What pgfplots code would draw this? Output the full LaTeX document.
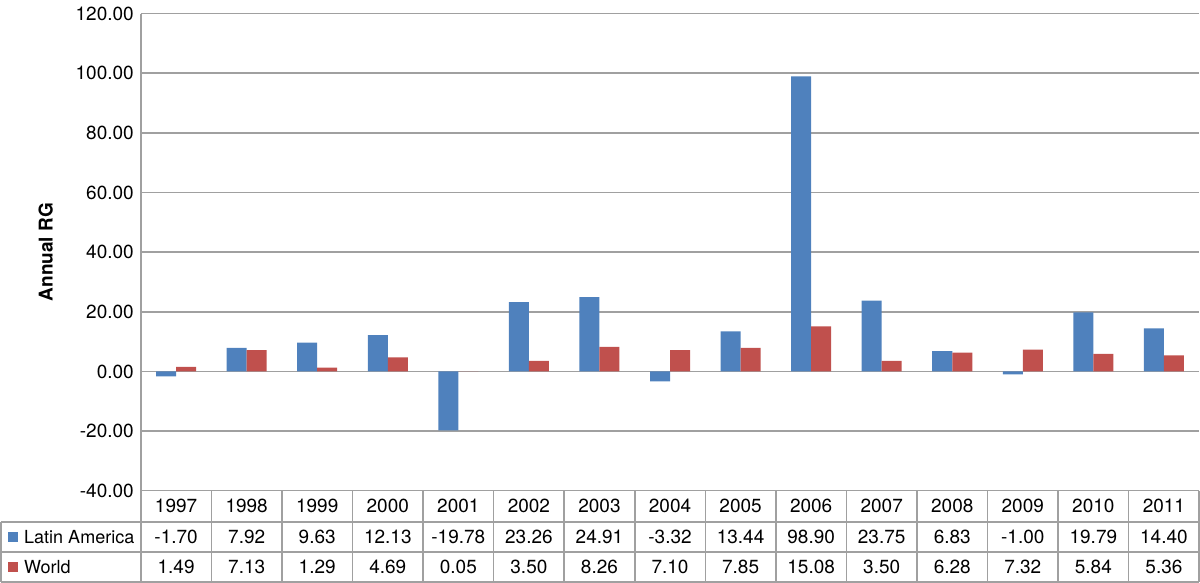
\documentclass[border=0pt]{standalone}
\usepackage{fontspec}
\setmainfont{TeX Gyre Heros}
\usepackage{pgfplots}
\usepackage{pgfplotstable}
\pgfplotsset{compat=1.18}
\definecolor{laBlue}{HTML}{4F81BD}
\definecolor{wRed}{HTML}{C0504D}
\definecolor{gridgray}{HTML}{A0A0A0}
\pgfplotstableread{
idx year la world
0 1997 -1.70 1.49
1 1998 7.92 7.13
2 1999 9.63 1.29
3 2000 12.13 4.69
4 2001 -19.78 0.05
5 2002 23.26 3.50
6 2003 24.91 8.26
7 2004 -3.32 7.10
8 2005 13.44 7.85
9 2006 98.90 15.08
10 2007 23.75 3.50
11 2008 6.83 6.28
12 2009 -1.00 7.32
13 2010 19.79 5.84
14 2011 14.40 5.36
}\data
\begin{document}
\begin{tikzpicture}[font=\fontsize{9.5}{11}\selectfont]
\begin{axis}[
  scale only axis, width=529pt, height=238.5pt,
  xmin=-0.5, xmax=14.5, ymin=-40, ymax=120,
  ytick={-40,-20,...,120}, xtick=\empty,
  ymajorgrids, grid style={gridgray, line width=0.8pt},
  axis x line=none, axis y line=left,
  axis line style={-, gridgray, line width=0.8pt},
  major tick length=0pt,
  y tick label style={/pgf/number format/.cd, fixed, fixed zerofill, precision=2, assume math mode=true},
  ylabel={\bfseries Annual RG},
  every axis y label/.style={at={(axis description cs:0,0.5)}, xshift=-47.5pt, rotate=90, anchor=center},
  ybar=0pt, bar width=10pt,
  clip=false,
]
\addplot[fill=laBlue, draw=none] table[x=idx,y=la] {\data};
\addplot[fill=wRed, draw=none] table[x=idx,y=world] {\data};
\end{axis}
% data table
\begin{scope}[gridgray, line width=0.8pt]
  \draw (0,0) -- (529pt,0);
  \draw (-70pt,-15.5pt) -- (529pt,-15.5pt);
  \draw (-70pt,-30.5pt) -- (529pt,-30.5pt);
  \draw (-70pt,-45.5pt) -- (529pt,-45.5pt);
  \draw (-70pt,-15.5pt) -- (-70pt,-45.5pt);
  \foreach \k in {0,...,15} { \draw ({\k*529pt/15},0) -- ({\k*529pt/15},-45.5pt); }
\end{scope}
\foreach \yr [count=\i from 0] in {1997,1998,1999,2000,2001,2002,2003,2004,2005,2006,2007,2008,2009,2010,2011}
  { \node at ({(\i+0.5)*529pt/15},-7.75pt) {\yr}; }
\foreach \v [count=\i from 0] in {-1.70,7.92,9.63,12.13,-19.78,23.26,24.91,-3.32,13.44,98.90,23.75,6.83,-1.00,19.79,14.40}
  { \node at ({(\i+0.5)*529pt/15},-23pt) {\v}; }
\foreach \v [count=\i from 0] in {1.49,7.13,1.29,4.69,0.05,3.50,8.26,7.10,7.85,15.08,3.50,6.28,7.32,5.84,5.36}
  { \node at ({(\i+0.5)*529pt/15},-38pt) {\v}; }
\fill[laBlue] (-66.5pt,-25.5pt) rectangle ++(5pt,5pt);
\fill[wRed] (-66.5pt,-40.5pt) rectangle ++(5pt,5pt);
\node[anchor=west, inner sep=0pt, font=\fontsize{9}{11}\selectfont] at (-58.5pt,-23pt) {Latin America};
\node[anchor=west, inner sep=0pt, font=\fontsize{9}{11}\selectfont] at (-58.5pt,-38pt) {World};
\end{tikzpicture}
\end{document}
